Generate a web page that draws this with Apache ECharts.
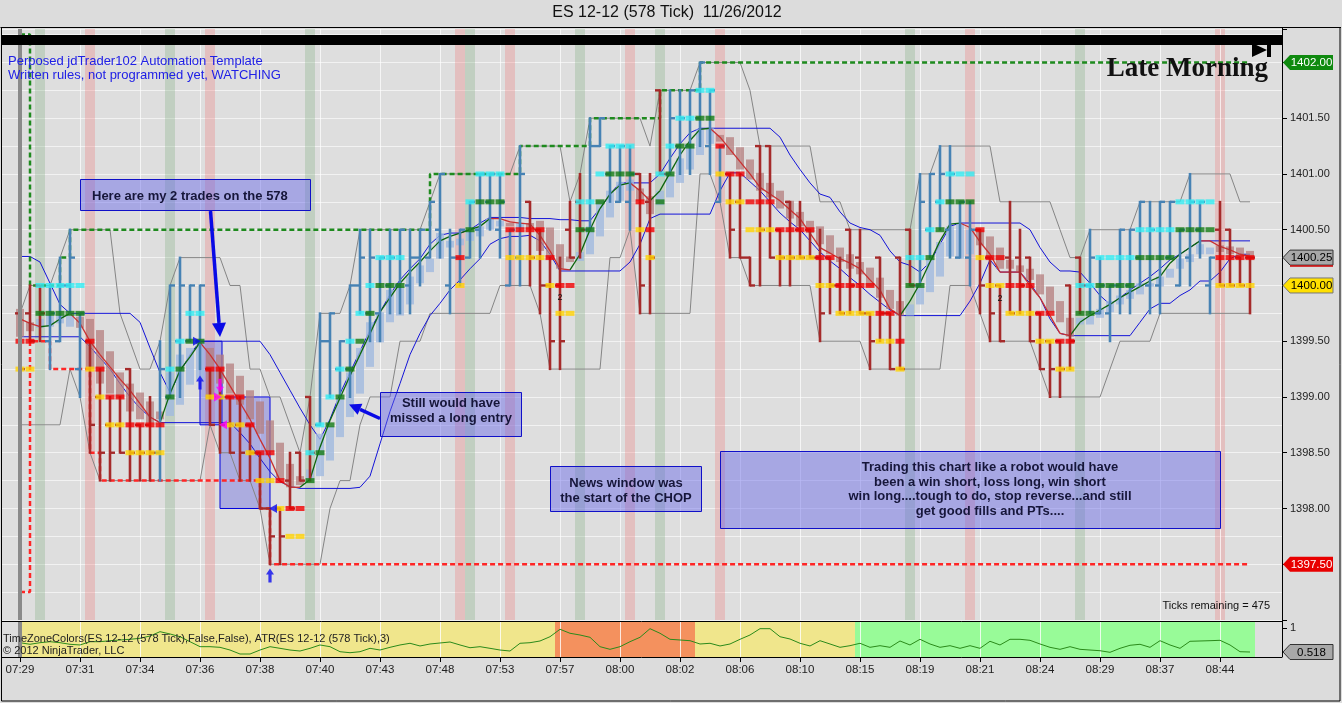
<!DOCTYPE html>
<html><head><meta charset="utf-8">
<script src="https://cdn.jsdelivr.net/npm/echarts@6/dist/echarts.min.js"></script>
<style>html,body{margin:0;padding:0;background:#dcdcdc;overflow:hidden}#c{width:1342px;height:703px}</style>
</head><body><div id="c"></div><script>
// ---------- DATA ----------
const times = ['07:29','07:31','07:34','07:36','07:38','07:40','07:43','07:48','07:53','07:57','08:00','08:02','08:06','08:10','08:15','08:19','08:21','08:24','08:29','08:37','08:44'];
const labelEvery = 6;
const open = [1399.75,1399.75,1400.00,1399.50,1399.50,1400.00,1399.25,1399.50,1399.00,1398.75,
 1398.75,1399.25,1398.75,1398.75,1398.50,1399.00,1399.50,1399.50,1399.50,1399.25,
 1399.00,1399.00,1398.75,1398.75,1398.50,1398.00,1398.00,1398.25,1398.50,1399.00,
 1398.75,1399.50,1399.25,1399.25,1400.00,1399.75,1399.75,1400.00,1400.00,1400.00,
 1400.25,1400.25,1400.50,1400.00,1400.25,1400.25,1400.50,1400.75,1400.50,1400.00,
 1400.25,1400.75,1400.50,1400.00,1400.00,1400.50,1400.75,1400.50,1401.25,1401.00,
 1400.75,1400.75,1401.00,1400.75,1401.75,1401.00,1401.25,1401.25,1401.50,1401.25,
 1400.75,1401.00,1400.75,1400.25,1401.25,1401.25,1400.50,1400.75,1400.50,1400.50,
 1400.25,1400.25,1400.00,1400.50,1400.25,1399.75,1400.25,1399.75,1400.25,1400.50,
 1400.00,1400.50,1400.75,1400.50,1400.25,1400.25,1400.50,1400.25,1400.00,1400.25,
 1400.25,1400.25,1399.75,1399.50,1399.50,1400.00,1400.25,1400.00,1399.75,1399.75,
 1400.00,1400.00,1400.25,1400.00,1400.00,1400.25,1400.00,1400.25,1400.50,1400.00,
 1400.50,1400.50,1400.25,1400.25];
const high = [1399.75,1400.00,1400.00,1400.00,1400.25,1400.50,1399.75,1399.50,1399.25,1399.00,
 1399.00,1399.25,1398.75,1399.00,1399.50,1400.00,1400.25,1400.00,1400.00,1399.25,
 1399.25,1399.00,1399.00,1398.75,1398.50,1398.00,1398.00,1398.50,1398.50,1399.00,
 1399.75,1399.75,1399.50,1400.00,1400.50,1400.50,1400.25,1400.50,1400.50,1400.50,
 1400.50,1400.75,1401.00,1400.50,1400.50,1400.75,1401.00,1401.00,1401.00,1400.50,
 1401.25,1400.75,1400.50,1400.25,1400.25,1400.75,1401.00,1401.50,1401.50,1401.25,
 1401.25,1401.25,1401.00,1401.00,1401.75,1401.75,1401.75,1401.75,1402.00,1401.75,
 1401.25,1401.00,1401.00,1400.25,1401.25,1401.25,1400.50,1400.75,1400.75,1400.50,
 1400.50,1400.25,1400.25,1400.50,1400.50,1399.75,1400.25,1399.75,1400.25,1400.50,
 1401.00,1401.00,1401.25,1401.25,1400.75,1400.75,1400.50,1400.25,1400.00,1400.75,
 1400.50,1400.25,1399.75,1399.50,1399.50,1400.00,1400.25,1400.50,1400.25,1400.00,
 1400.50,1400.50,1400.75,1400.75,1400.75,1400.75,1400.50,1401.00,1400.75,1400.25,
 1400.75,1400.50,1400.25,1400.25];
const low = [1399.00,1399.50,1399.50,1399.25,1399.50,1399.75,1399.00,1398.50,1398.25,1398.25,
 1398.50,1398.25,1398.25,1398.25,1398.25,1399.00,1399.00,1399.50,1399.25,1398.75,
 1398.50,1398.50,1398.25,1398.25,1398.00,1397.50,1397.50,1398.00,1398.25,1398.25,
 1398.75,1399.00,1399.00,1399.00,1399.75,1399.50,1399.50,1399.75,1399.75,1399.75,
 1400.00,1400.25,1400.25,1399.75,1400.00,1400.25,1400.25,1400.50,1400.25,1400.00,
 1400.00,1400.00,1399.75,1399.25,1399.25,1400.25,1400.25,1400.50,1401.25,1400.75,
 1400.75,1400.50,1399.75,1399.75,1401.00,1401.00,1401.00,1401.00,1401.25,1401.00,
 1400.75,1400.25,1400.25,1400.00,1400.00,1400.25,1400.00,1400.00,1400.25,1400.25,
 1399.50,1399.75,1399.75,1399.75,1399.75,1399.25,1399.50,1399.25,1399.25,1400.00,
 1400.00,1400.25,1400.50,1400.25,1400.25,1400.00,1399.75,1399.50,1399.50,1399.75,
 1399.75,1399.50,1399.25,1399.00,1399.00,1399.25,1399.75,1399.75,1399.75,1399.50,
 1399.75,1399.75,1400.00,1399.75,1399.75,1400.25,1400.00,1400.00,1400.25,1399.75,
 1400.00,1400.00,1400.00,1399.75];
const close = [1399.25,1399.50,1399.75,1399.75,1400.00,1400.25,1399.75,1398.75,1398.50,1398.50,
 1398.50,1398.50,1398.50,1398.50,1399.25,1400.00,1400.00,1400.00,1400.00,1398.75,
 1398.75,1398.50,1398.50,1398.50,1398.00,1397.75,1397.75,1398.00,1398.25,1398.50,
 1399.50,1399.75,1399.50,1400.00,1400.25,1400.25,1400.25,1400.25,1400.50,1400.25,
 1400.50,1400.75,1401.00,1400.25,1400.50,1400.75,1401.00,1401.00,1400.75,1400.50,
 1401.00,1400.25,1400.00,1399.50,1399.50,1400.25,1400.50,1401.25,1401.50,1401.25,
 1401.25,1401.00,1400.00,1400.25,1401.00,1401.50,1401.50,1401.75,1402.00,1401.75,
 1401.25,1400.50,1400.25,1400.00,1400.50,1400.25,1400.25,1400.25,1400.25,1400.25,
 1399.75,1400.00,1399.75,1400.00,1399.75,1399.50,1399.75,1399.25,1399.25,1400.00,
 1400.75,1401.00,1401.00,1401.00,1400.75,1400.50,1400.00,1399.75,1399.50,1399.75,
 1400.00,1399.50,1399.25,1399.25,1399.25,1399.50,1400.00,1400.25,1400.00,1400.00,
 1400.50,1400.50,1400.75,1400.50,1400.75,1400.75,1400.50,1400.75,1400.75,1400.25,
 1400.00,1400.00,1400.00,1400.25];
const haOpen = [1399.79,1399.67,1399.62,1399.63,1399.66,1399.63,1399.72,1399.70,1399.60,1399.41,
 1399.22,1399.12,1399.04,1398.96,1398.87,1398.83,1398.93,1399.11,1399.15,1399.44,
 1399.38,1399.30,1399.19,1399.06,1398.96,1398.79,1398.59,1398.40,1398.29,1398.25,
 1398.29,1398.43,1398.64,1398.82,1399.03,1399.27,1399.49,1399.67,1399.73,1399.83,
 1400.02,1400.12,1400.24,1400.34,1400.36,1400.40,1400.44,1400.50,1400.53,1400.56,
 1400.51,1400.56,1400.58,1400.52,1400.37,1400.26,1400.22,1400.28,1400.44,1400.61,
 1400.76,1400.85,1400.87,1400.80,1400.72,1400.79,1400.92,1401.04,1401.17,1401.27,
 1401.35,1401.33,1401.24,1401.13,1401.01,1400.92,1400.85,1400.76,1400.66,1400.58,
 1400.53,1400.45,1400.34,1400.28,1400.21,1400.16,1400.07,1399.96,1399.86,1399.73,
 1399.83,1399.94,1400.08,1400.26,1400.24,1400.28,1400.50,1400.44,1400.34,1400.23,
 1400.18,1400.15,1400.10,1399.99,1399.86,1399.71,1399.65,1399.65,1399.71,1399.76,
 1399.83,1399.88,1399.92,1399.99,1399.99,1400.07,1400.15,1400.21,1400.28,1400.28,
 1400.36,1400.35,1400.34,1400.31];
const haClose = [1399.54,1399.59,1399.70,1399.73,1399.73,1399.73,1399.62,1399.25,1399.12,1399.03,
 1398.99,1398.87,1398.80,1398.77,1398.80,1399.22,1399.38,1399.44,1399.47,1398.99,
 1399.12,1399.03,1398.93,1398.80,1398.67,1398.51,1398.26,1398.19,1398.21,1398.35,
 1398.67,1398.74,1398.99,1399.22,1399.44,1399.67,1399.76,1399.96,1399.99,1400.08,
 1400.18,1400.24,1400.47,1400.40,1400.42,1400.48,1400.53,1400.60,1400.58,1400.53,
 1400.56,1400.50,1400.31,1400.24,1400.15,1400.21,1400.30,1400.53,1400.76,1400.85,
 1400.93,1400.95,1400.76,1400.64,1400.85,1401.00,1401.14,1401.27,1401.40,1401.41,
 1401.29,1401.17,1401.04,1400.95,1400.85,1400.79,1400.69,1400.60,1400.53,1400.47,
 1400.37,1400.28,1400.21,1400.15,1400.10,1399.99,1399.89,1399.79,1399.73,1399.83,
 1400.02,1400.23,1400.39,1400.53,1400.55,1400.50,1400.36,1400.24,1400.15,1400.15,
 1400.12,1400.05,1399.92,1399.76,1399.67,1399.54,1399.71,1399.73,1399.79,1399.86,
 1399.91,1399.96,1400.02,1400.02,1400.08,1400.15,1400.24,1400.28,1400.37,1400.34,
 1400.30,1400.28,1400.26,1400.24];
const maLine = [1399.70,1399.66,1399.63,1399.64,1399.70,1399.75,1399.66,1399.50,1399.38,1399.27,
 1399.16,1399.06,1398.94,1398.82,1398.77,1399.03,1399.24,1399.36,1399.49,1399.38,
 1399.25,1399.10,1398.95,1398.80,1398.62,1398.45,1398.25,1398.19,1398.19,1398.26,
 1398.55,1398.79,1398.99,1399.19,1399.38,1399.57,1399.76,1399.89,1400.02,1400.12,
 1400.21,1400.31,1400.40,1400.44,1400.47,1400.50,1400.53,1400.60,1400.60,1400.57,
 1400.56,1400.55,1400.45,1400.31,1400.15,1400.14,1400.28,1400.50,1400.69,1400.82,
 1400.90,1400.92,1400.85,1400.76,1400.85,1401.01,1401.17,1401.30,1401.40,1401.41,
 1401.33,1401.22,1401.11,1401.00,1400.88,1400.82,1400.76,1400.68,1400.60,1400.47,
 1400.34,1400.29,1400.24,1400.20,1400.15,1400.05,1399.96,1399.79,1399.73,1399.86,
 1400.02,1400.21,1400.40,1400.55,1400.56,1400.52,1400.39,1400.28,1400.12,1400.12,
 1400.12,1400.00,1399.89,1399.73,1399.57,1399.55,1399.67,1399.73,1399.78,1399.83,
 1399.89,1399.94,1399.99,1400.04,1400.08,1400.20,1400.28,1400.34,1400.40,1400.40,
 1400.35,1400.32,1400.28,1400.26];
const bandUpper = [1400.26,1400.26,1400.21,1400.02,1399.83,1399.75,1399.75,1399.75,1399.75,1399.75,
 1399.75,1399.75,1399.67,1399.44,1399.22,1399.04,1399.22,1399.38,1399.50,1399.50,
 1399.50,1399.50,1399.50,1399.50,1399.50,1399.38,1399.22,1399.06,1398.90,1398.75,
 1398.62,1398.80,1399.03,1399.22,1399.41,1399.60,1399.76,1399.92,1400.05,1400.15,
 1400.24,1400.37,1400.45,1400.47,1400.47,1400.50,1400.56,1400.61,1400.61,1400.61,
 1400.61,1400.60,1400.60,1400.60,1400.59,1400.59,1400.58,1400.58,1400.69,1400.82,
 1400.92,1400.92,1400.92,1400.92,1401.00,1401.14,1401.27,1401.37,1401.41,1401.41,
 1401.41,1401.41,1401.41,1401.41,1401.41,1401.41,1401.33,1401.17,1401.04,1400.92,
 1400.82,1400.79,1400.66,1400.56,1400.52,1400.50,1400.45,1400.31,1400.21,1400.18,
 1400.12,1400.21,1400.37,1400.53,1400.56,1400.56,1400.56,1400.56,1400.56,1400.56,
 1400.56,1400.50,1400.34,1400.21,1400.13,1400.13,1400.12,1400.02,1399.91,1399.83,
 1399.89,1399.96,1400.02,1400.08,1400.15,1400.23,1400.28,1400.34,1400.40,1400.40,
 1400.40,1400.40,1400.40,1400.40];
const bandLower = [1399.54,1399.54,1399.54,1399.54,1399.54,1399.54,1399.54,1399.45,1399.35,1399.25,
 1399.12,1399.00,1398.90,1398.82,1398.77,1398.77,1398.77,1398.77,1398.77,1398.77,
 1398.77,1398.77,1398.68,1398.58,1398.45,1398.33,1398.24,1398.20,1398.18,1398.18,
 1398.18,1398.18,1398.18,1398.18,1398.19,1398.29,1398.58,1398.87,1399.12,1399.38,
 1399.57,1399.73,1399.84,1399.96,1400.05,1400.15,1400.24,1400.37,1400.42,1400.44,
 1400.44,1400.45,1400.40,1400.28,1400.13,1400.13,1400.13,1400.13,1400.13,1400.13,
 1400.13,1400.21,1400.37,1400.60,1400.64,1400.64,1400.64,1400.64,1400.64,1400.64,
 1400.85,1401.01,1401.01,1400.93,1400.85,1400.75,1400.65,1400.57,1400.50,1400.40,
 1400.30,1400.22,1400.15,1400.07,1400.00,1399.92,1399.85,1399.78,1399.73,1399.73,
 1399.73,1399.73,1399.73,1399.73,1399.73,1399.86,1400.02,1400.23,1400.12,1400.12,
 1400.12,1400.02,1399.89,1399.70,1399.57,1399.55,1399.55,1399.55,1399.55,1399.55,
 1399.55,1399.55,1399.67,1399.79,1399.84,1399.84,1399.91,1399.96,1400.04,1400.04,
 1400.12,1400.24,1400.28,1400.28];
const channelHigh = [1399.75,1400.00,1400.00,1400.00,1400.25,1400.50,1400.50,1400.50,1400.50,1400.50,
 1399.75,1399.50,1399.25,1399.25,1399.50,1400.00,1400.25,1400.25,1400.25,1400.25,
 1400.25,1400.00,1400.00,1399.25,1399.25,1399.00,1399.00,1398.75,1398.50,1399.00,
 1399.75,1399.75,1399.75,1400.00,1400.50,1400.50,1400.50,1400.50,1400.50,1400.50,
 1400.50,1400.75,1401.00,1401.00,1401.00,1401.00,1401.00,1401.00,1401.00,1401.00,
 1401.25,1401.25,1401.25,1401.25,1401.25,1400.75,1401.00,1401.50,1401.50,1401.50,
 1401.50,1401.50,1401.50,1401.25,1401.75,1401.75,1401.75,1401.75,1402.00,1402.00,
 1402.00,1402.00,1402.00,1401.75,1401.25,1401.25,1401.25,1401.25,1401.25,1401.25,
 1400.75,1400.75,1400.75,1400.50,1400.50,1400.50,1400.50,1400.50,1400.50,1400.50,
 1401.00,1401.00,1401.25,1401.25,1401.25,1401.25,1401.25,1401.25,1400.75,1400.75,
 1400.75,1400.75,1400.75,1400.75,1400.50,1400.25,1400.25,1400.50,1400.50,1400.50,
 1400.50,1400.50,1400.75,1400.75,1400.75,1400.75,1400.75,1401.00,1401.00,1401.00,
 1401.00,1401.00,1400.75,1400.75];
const channelLow = [1398.75,1398.75,1398.75,1398.75,1398.75,1399.25,1399.00,1398.50,1398.25,1398.25,
 1398.25,1398.25,1398.25,1398.25,1398.25,1398.25,1398.25,1398.25,1398.25,1398.75,
 1398.50,1398.50,1398.25,1398.25,1398.00,1397.50,1397.50,1397.50,1397.50,1397.50,
 1397.50,1398.00,1398.25,1398.25,1398.75,1399.00,1399.00,1399.00,1399.50,1399.50,
 1399.50,1399.75,1399.75,1399.75,1399.75,1399.75,1399.75,1399.75,1400.00,1400.00,
 1400.00,1400.00,1399.75,1399.25,1399.25,1399.25,1399.25,1399.25,1399.25,1400.25,
 1400.25,1400.50,1399.75,1399.75,1399.75,1399.75,1399.75,1399.75,1401.00,1401.00,
 1400.75,1400.25,1400.25,1400.00,1400.00,1400.00,1400.00,1400.00,1400.00,1400.00,
 1399.50,1399.50,1399.50,1399.50,1399.50,1399.25,1399.25,1399.25,1399.25,1399.25,
 1399.25,1399.25,1399.25,1400.00,1400.00,1400.00,1399.75,1399.50,1399.50,1399.50,
 1399.50,1399.50,1399.25,1399.00,1399.00,1399.00,1399.00,1399.00,1399.00,1399.25,
 1399.50,1399.50,1399.50,1399.50,1399.75,1399.75,1399.75,1399.75,1399.75,1399.75,
 1399.75,1399.75,1399.75,1399.75];
const trailHigh = [1402.25,1400.00,1400.00,1400.00,1400.25,
 1400.50,1400.50,1400.50,1400.50,1400.50,1400.50,1400.50,1400.50,1400.50,1400.50,1400.50,1400.50,1400.50,1400.50,1400.50,
 1400.50,1400.50,1400.50,1400.50,1400.50,1400.50,1400.50,1400.50,1400.50,1400.50,1400.50,1400.50,1400.50,1400.50,1400.50,
 1400.50,1400.50,1400.50,1400.50,1400.50,1400.50,
 1401.00,1401.00,1401.00,1401.00,1401.00,1401.00,1401.00,1401.00,1401.00,
 1401.25,1401.25,1401.25,1401.25,1401.25,1401.25,1401.25,
 1401.50,1401.50,1401.50,1401.50,1401.50,1401.50,1401.50,
 1401.75,1401.75,1401.75,1401.75,
 1402.00,1402.00,1402.00,1402.00,1402.00,1402.00,1402.00,1402.00,1402.00,1402.00,1402.00,1402.00,1402.00,1402.00,
 1402.00,1402.00,1402.00,1402.00,1402.00,1402.00,1402.00,1402.00,1402.00,1402.00,1402.00,1402.00,1402.00,1402.00,
 1402.00,1402.00,1402.00,1402.00,1402.00,1402.00,1402.00,1402.00,1402.00,1402.00,1402.00,1402.00,1402.00,1402.00,
 1402.00,1402.00,1402.00,1402.00,1402.00,1402.00,1402.00,1402.00,1402.00,1402.00,1402.00,1402.00,1402.00,1402.00];
const trailLow = [1397.25,1399.50,1399.50,1399.25,1399.25,1399.25,1399.25,1398.50,
 1398.25,1398.25,1398.25,1398.25,1398.25,1398.25,1398.25,1398.25,1398.25,1398.25,1398.25,1398.25,1398.25,1398.25,1398.25,1398.25,
 1398.00,
 1397.50,1397.50,1397.50,1397.50,1397.50,1397.50,1397.50,1397.50,1397.50,1397.50,1397.50,1397.50,1397.50,1397.50,1397.50,1397.50,1397.50,1397.50,1397.50,1397.50,1397.50,1397.50,1397.50,1397.50,1397.50,
 1397.50,1397.50,1397.50,1397.50,1397.50,1397.50,1397.50,1397.50,1397.50,1397.50,1397.50,1397.50,1397.50,1397.50,1397.50,1397.50,1397.50,1397.50,1397.50,1397.50,1397.50,1397.50,1397.50,1397.50,1397.50,
 1397.50,1397.50,1397.50,1397.50,1397.50,1397.50,1397.50,1397.50,1397.50,1397.50,1397.50,1397.50,1397.50,1397.50,1397.50,1397.50,1397.50,1397.50,1397.50,1397.50,1397.50,1397.50,1397.50,1397.50,1397.50,
 1397.50,1397.50,1397.50,1397.50,1397.50,1397.50,1397.50,1397.50,1397.50,1397.50,1397.50,1397.50,1397.50,1397.50,1397.50,1397.50,1397.50,1397.50,1397.50,1397.50,1397.50,1397.50,1397.50,1397.50];
// signal dots: 1 = long (cyan over green), -1 = short (red over gold), 0 = none; level = upper dot
const signalSide = [-1,-1,1,1,1,1,1,-1,-1,-1,-1,-1,-1,-1,-1,1,1,1,1,-1,
 -1,-1,-1,-1,-1,-1,-1,-1,-1,1,1,1,1,1,1,1,1,1,1,0,
 0,0,0,0,-1,1,1,1,1,-1,-1,-1,-1,-1,-1,-1,1,1,1,1,
 1,1,-1,-1,1,1,1,1,1,1,-1,-1,-1,-1,-1,-1,-1,-1,-1,-1,
 -1,-1,-1,-1,-1,-1,-1,-1,-1,1,1,1,1,1,1,1,-1,-1,-1,-1,
 -1,-1,-1,-1,-1,-1,1,1,1,1,1,1,1,1,1,1,1,1,1,1,
 -1,-1,-1,-1];
const signalLevel = [1399.50,1399.50,1400.00,1400.00,1400.00,1400.00,1400.00,1399.50,1399.25,1399.00,
 1399.00,1398.75,1398.75,1398.75,1398.75,1399.25,1399.50,1399.75,1399.75,1399.25,
 1399.25,1399.00,1399.00,1398.75,1398.50,1398.50,1398.25,1398.00,1398.00,1398.50,
 1398.75,1399.00,1399.25,1399.50,1399.75,1400.00,1400.25,1400.25,1400.25,null,
 null,null,null,null,1400.25,1400.75,1401.00,1401.00,1401.00,1400.50,
 1400.50,1400.50,1400.50,1400.25,1400.00,1400.00,1400.75,1400.75,1401.00,1401.25,
 1401.25,1401.25,1400.75,1400.50,1401.00,1401.25,1401.50,1401.50,1401.75,1401.75,
 1401.25,1401.00,1401.00,1400.75,1400.75,1400.75,1400.50,1400.50,1400.50,1400.50,
 1400.25,1400.25,1400.00,1400.00,1400.00,1400.00,1399.75,1399.75,1399.50,1400.25,
 1400.25,1400.50,1400.75,1401.00,1401.00,1401.00,1400.50,1400.25,1400.25,1400.00,
 1400.00,1400.00,1399.75,1399.75,1399.50,1399.50,1400.00,1400.00,1400.25,1400.25,
 1400.25,1400.25,1400.50,1400.50,1400.50,1400.50,1400.75,1400.75,1400.75,1400.75,
 1400.25,1400.25,1400.25,1400.25];
const atr = [0.705,0.673,0.705,0.725,0.705,0.673,0.659,0.725,0.725,0.745,
 0.759,0.773,0.793,0.839,0.926,0.880,0.825,0.725,0.625,0.625,
 0.612,0.558,0.478,0.478,0.558,0.625,0.592,0.558,0.538,0.592,
 0.659,0.625,0.524,0.504,0.524,0.592,0.558,0.612,0.659,0.693,
 0.639,0.679,0.699,0.719,0.659,0.604,0.625,0.592,0.558,0.538,
 0.693,0.705,0.739,0.825,0.974,0.894,0.859,0.813,0.625,0.572,
 0.625,0.725,0.813,0.986,0.894,0.773,0.759,0.745,0.679,0.693,
 0.639,0.679,0.773,0.859,0.986,0.986,0.825,0.779,0.693,0.639,
 0.745,0.679,0.612,0.645,0.693,0.612,0.645,0.612,0.739,0.659,
 0.773,0.679,0.612,0.645,0.592,0.645,0.592,0.733,0.659,0.773,
 0.773,0.753,0.679,0.612,0.572,0.625,0.572,0.558,0.544,0.512,
 0.592,0.653,0.673,0.612,0.745,0.659,0.592,0.733,0.739,0.745,
 0.753,0.659,0.524,0.518];
const greenStripes = [2,15,29,45,56,64,89,106];
const redStripes = [7,19,44,49,61,70,95,120];
const zoneFrom = [0.2,53.5,67.5,83.5];
const zoneTo = [53.5,67.5,83.5,123.5];
const zoneKind = ['pre','news','pre','late'];
const tradeBoxes = [[18,20.2,1399.5,1398.75],[20,25,1399.0,1398.0]];
const tradeUpBlue = [[18,1399.13],[25,1397.40]];
const tradeRightBlue = [[17.7,1399.5]];
const tradeLeftBlue = [[25.3,1398.0]];
const tradeDownMagenta = [[20,1399.10]];
const tradeRightMagenta = [[19.8,1399.0]];
const tradeLeftMagenta = [[20.3,1398.75]];

// ---------- STYLE ----------
const UP='#4682B4', DN='#A52A2A', HA_UP='rgba(160,185,222,0.8)', HA_DN='rgba(180,125,125,0.75)';
const ZONE_COLORS={pre:'#F0E68C',news:'#F4915E',late:'#98FB98'};
const FONT='"Liberation Sans", Arial, sans-serif';
const N = close.length, last = N-1;
const tickVals = times.map((t,k)=>k*labelEvery);

const chart = echarts.init(document.getElementById('c'), null, {renderer:'canvas'});

const stripeAreas = greenStripes.map(i=>[{xAxis:i-0.5,itemStyle:{color:'rgba(120,170,120,0.28)'}},{xAxis:i+0.5}])
  .concat(redStripes.map(i=>[{xAxis:i-0.5,itemStyle:{color:'rgba(240,120,120,0.30)'}},{xAxis:i+0.5}]));

const pts = arr => arr.map((v,i)=>[i,v]);
const cyanPts=[],greenPts=[],redPts=[],goldPts=[];
signalSide.forEach((s,i)=>{
  const lv = signalLevel[i]; if(lv==null||s===0) return;
  if(s===1){cyanPts.push([i,lv]);greenPts.push([i,lv-0.25]);}
  else {redPts.push([i,lv]);goldPts.push([i,lv-0.25]);}
});
function dots(data,color,z){return {type:'scatter',xAxisIndex:0,yAxisIndex:0,data,symbol:'rect',symbolSize:[9,5],itemStyle:{color},z,silent:true};}
function marks(data,path,size,color){return {type:'scatter',xAxisIndex:0,yAxisIndex:0,data,symbol:path,symbolSize:size,itemStyle:{color},z:12,silent:true};}
const P_UP='path://M5,0L10,6L7,6L7,14L3,14L3,6L0,6Z';
const P_DOWN='path://M3,0L7,0L7,8L10,8L5,14L0,8L3,8Z';
const P_RIGHT='path://M0,0L10,5L0,10Z';
const P_LEFT='path://M10,0L0,5L10,10Z';

const option = {
  animation:false,
  backgroundColor:'#dcdcdc',
  grid:[
    {left:2,top:29,width:1280,height:591,show:true,backgroundColor:'#dedede',borderWidth:0},
    {left:2,top:622,width:1280,height:35,show:true,backgroundColor:'#dedede',borderWidth:0}
  ],
  xAxis:[
    {type:'value',gridIndex:0,min:-1.8,max:126.2,show:false,axisLine:{onZero:false}},
    {type:'value',gridIndex:1,min:-1.8,max:126.2,axisLine:{show:false,onZero:false},
     axisTick:{show:true,customValues:tickVals,length:5,lineStyle:{color:'#000'}},
     axisLabel:{customValues:tickVals,color:'#222',fontSize:11.5,margin:7,fontFamily:FONT,
       formatter:v=>{const k=v/labelEvery;return Number.isInteger(k)&&times[k]?times[k]:'';}},
     splitLine:{show:false}}
  ],
  yAxis:[
    {type:'value',gridIndex:0,position:'right',min:1397,max:1402.3,interval:0.5,
     axisLine:{show:true,onZero:false,lineStyle:{color:'#000'}},axisTick:{show:true,length:5,lineStyle:{color:'#000'}},
     axisLabel:{color:'#222',fontSize:11,margin:8,fontFamily:FONT,formatter:v=>{
       if(Math.abs(v*2-Math.round(v*2))>1e-6) return '';
       const hidden=[1397,trailLow[last],trailHigh[last],close[last],signalLevel[last]-0.25];
       if(hidden.some(h=>Math.abs(h-v)<1e-6)) return '';
       return v.toFixed(2);}},
     splitLine:{show:true,lineStyle:{color:'rgba(255,255,255,0.6)'}},
     minorTick:{show:false,splitNumber:2},
     minorSplitLine:{show:true,lineStyle:{color:'rgba(255,255,255,0.6)'}}},
    {type:'value',gridIndex:1,position:'right',min:0.418,max:1.12,
     axisLine:{show:true,onZero:false,lineStyle:{color:'#000'}},
     axisTick:{show:true,customValues:[1],length:5,lineStyle:{color:'#000'}},
     axisLabel:{customValues:[1],color:'#222',fontSize:11,margin:8,fontFamily:FONT,formatter:v=>Math.abs(v-1)<1e-6?'1':''},
     splitLine:{show:false}}
  ],
  series:[
    {type:'line',xAxisIndex:0,yAxisIndex:0,data:[],silent:true,z:1,
     markArea:{silent:true,z:1,data:stripeAreas},
     markLine:{silent:true,z:1,symbol:'none',label:{show:false},lineStyle:{color:'rgba(255,255,255,0.7)',width:1,type:'solid'},
       data:tickVals.map(v=>({xAxis:v}))}},
    {type:'line',xAxisIndex:0,yAxisIndex:0,data:pts(channelHigh),showSymbol:false,lineStyle:{color:'#858585',width:1},z:2,silent:true},
    {type:'line',xAxisIndex:0,yAxisIndex:0,data:pts(channelLow),showSymbol:false,lineStyle:{color:'#858585',width:1},z:2,silent:true},
    {type:'line',xAxisIndex:0,yAxisIndex:0,data:pts(bandUpper),showSymbol:false,lineStyle:{color:'#1414D8',width:1},z:3,silent:true},
    {type:'line',xAxisIndex:0,yAxisIndex:0,data:pts(bandLower),showSymbol:false,lineStyle:{color:'#1414D8',width:1},z:3,silent:true},
    {type:'custom',xAxisIndex:0,yAxisIndex:0,z:4,silent:true,
     data:haOpen.map((o,i)=>[i,o,haClose[i]]),encode:{x:0,y:[1,2]},
     renderItem:(params,api)=>{
       const i=api.value(0),o=api.value(1),c=api.value(2);
       const a=api.coord([i,Math.max(o,c)]),b=api.coord([i,Math.min(o,c)]);
       return {type:'rect',shape:{x:a[0]-4,y:a[1],width:8,height:Math.max(2,b[1]-a[1])},style:{fill:c>=o?HA_UP:HA_DN}};
     }},
    {type:'line',xAxisIndex:0,yAxisIndex:0,data:[],silent:true,z:5,
     markArea:{silent:true,z:2,itemStyle:{color:'rgba(70,70,225,0.33)',borderColor:'#0000DD',borderWidth:1},
       data:tradeBoxes.map(b=>[{xAxis:b[0],yAxis:b[2]},{xAxis:b[1],yAxis:b[3]}])}},
    {type:'line',xAxisIndex:0,yAxisIndex:0,data:pts(trailHigh),step:'end',showSymbol:false,z:6,silent:true,
     lineStyle:{color:'#1E8A1E',width:2.5,type:[5,3]}},
    {type:'line',xAxisIndex:0,yAxisIndex:0,data:pts(trailLow),step:'end',showSymbol:false,z:6,silent:true,
     lineStyle:{color:'#FF2626',width:2.5,type:[5,3]}},
    {type:'custom',xAxisIndex:0,yAxisIndex:0,z:7,silent:true,
     data:maLine.slice(1).map((v,k)=>[k,maLine[k],k+1,v]),encode:{x:[0,2],y:[1,3]},
     renderItem:(params,api)=>{
       const p1=api.coord([api.value(0),api.value(1)]),p2=api.coord([api.value(2),api.value(3)]);
       return {type:'line',shape:{x1:p1[0],y1:p1[1],x2:p2[0],y2:p2[1]},style:{stroke:api.value(3)>api.value(1)?'#0B640B':'#C83030',lineWidth:1.3}};
     }},
    {type:'custom',xAxisIndex:0,yAxisIndex:0,z:8,silent:true,
     data:close.map((c,i)=>[i,open[i],high[i],low[i],c]),encode:{x:0,y:[1,2,3,4]},
     renderItem:(params,api)=>{
       const i=api.value(0),o=api.value(1),h=api.value(2),l=api.value(3),c=api.value(4);
       const ph=api.coord([i,h]),pl=api.coord([i,l]),po=api.coord([i,o]),pc=api.coord([i,c]);
       const col=c>o?UP:DN, x=ph[0];
       return {type:'group',children:[
         {type:'line',shape:{x1:x,y1:ph[1]-1,x2:x,y2:pl[1]+1},style:{stroke:col,lineWidth:2.6}},
         {type:'line',shape:{x1:x-5,y1:po[1],x2:x,y2:po[1]},style:{stroke:col,lineWidth:2.4}},
         {type:'line',shape:{x1:x,y1:pc[1],x2:x+5,y2:pc[1]},style:{stroke:col,lineWidth:2.4}}
       ]};
     }},
    dots(goldPts,'#FFD200',9), dots(greenPts,'#137A13',9), dots(redPts,'#F00000',10), dots(cyanPts,'#30ECF2',10),
    marks(tradeUpBlue,P_UP,[8,14],'#0A0AEE'),
    marks(tradeRightBlue,P_RIGHT,[8,9],'#0A0AEE'),
    marks(tradeLeftBlue,P_LEFT,[8,9],'#0A0AEE'),
    marks(tradeDownMagenta,P_DOWN,[8,14],'#FF00FF'),
    marks(tradeRightMagenta,P_RIGHT,[8,9],'#FF00FF'),
    marks(tradeLeftMagenta,P_LEFT,[8,9],'#FF00FF'),
    {type:'line',xAxisIndex:0,yAxisIndex:0,data:[],silent:true,z:20,
     markLine:{silent:true,z:20,symbol:'none',label:{show:false},lineStyle:{color:'#8a8a8a',width:4,type:'solid'},data:[{xAxis:0}]}},
    // lower panel
    {type:'line',xAxisIndex:1,yAxisIndex:1,data:[],silent:true,z:1,
     markArea:{silent:true,z:1,data:zoneFrom.map((f,k)=>[{xAxis:f,itemStyle:{color:ZONE_COLORS[zoneKind[k]]}},{xAxis:zoneTo[k]}])}},
    {type:'line',xAxisIndex:1,yAxisIndex:1,data:[],silent:true,z:2,
     markLine:{silent:true,z:2,symbol:'none',label:{show:false},lineStyle:{color:'rgba(255,255,255,0.8)',width:1,type:'solid'},data:tickVals.map(v=>({xAxis:v}))}},
    {type:'line',xAxisIndex:1,yAxisIndex:1,data:pts(atr),showSymbol:false,z:3,silent:true,lineStyle:{color:'#2A8A1A',width:1}},
    {type:'line',xAxisIndex:1,yAxisIndex:1,data:[],silent:true,z:20,
     markLine:{silent:true,z:20,symbol:'none',label:{show:false},lineStyle:{color:'#8a8a8a',width:4,type:'solid'},data:[{xAxis:0}]}}
  ]
};
chart.setOption(option);

// ---------- annotations / frame ----------
const g = [];
function txt(x,y,text,font,fill,align){g.push({type:'text',x,y,z:200,silent:true,style:{text,font,fill,align:align||'left',verticalAlign:'middle',textAlign:align||'left',textVerticalAlign:'middle'}});}
function rect(x,y,w,h,fill,stroke,z){g.push({type:'rect',z:z||150,silent:true,shape:{x,y,width:w,height:h},style:{fill:fill||'none',stroke:stroke||null,lineWidth:1}});}
function line(x1,y1,x2,y2,stroke,w,z){g.push({type:'line',z:z||150,silent:true,shape:{x1,y1,x2,y2},style:{stroke,lineWidth:w}});}
function poly(points,fill,stroke,z){g.push({type:'polygon',z:z||150,silent:true,shape:{points},style:{fill,stroke:stroke||null,lineWidth:1}});}

// frame
rect(2,35,1280,10,'#000',null,120);
poly([[1252,43],[1267,50],[1252,57]],'#000',null,121);
rect(1267,40,4,17,'#000',null,121);
line(0.5,27.5,1341,27.5,'#000',1,130);
line(1282.5,27,1282.5,657,'#000',1,130);
line(1,621.5,1282,621.5,'#000',1,130);
line(1,657.5,1282,657.5,'#000',1,130);
rect(1.5,27.5,1338.5,673.5,'none','#000',130);

// title & texts
txt(667,13,'ES 12-12 (578 Tick)  11/26/2012','16px '+FONT,'#111','center');
txt(8,61,'Perposed jdTrader102 Automation Template','13px '+FONT,'#2020E6');
txt(8,75,'Written rules, not programmed yet, WATCHING','13px '+FONT,'#2020E6');
txt(1268,69,'Late Morning','bold 27px "Liberation Serif", "Times New Roman", serif','#111','right');
txt(1270,606,'Ticks remaining = 475','11px '+FONT,'#111','right');
txt(3,639,'TimeZoneColors(ES 12-12 (578 Tick),False,False), ATR(ES 12-12 (578 Tick),3)','11px '+FONT,'#222');
txt(3,651,'© 2012 NinjaTrader, LLC','11px '+FONT,'#222');
txt(560,298,'2','9px '+FONT,'#111','center');
txt(1000,299,'2','9px '+FONT,'#111','center');

// annotation boxes
const BOX='rgba(100,100,232,0.45)', BORDER='#1010C8', BT='#16163a', BF='bold 13px '+FONT;
rect(80.5,179.5,230,31,BOX,BORDER);
txt(92,196,'Here are my 2 trades on the 578',BF,BT);
line(210.5,211,219,323,'#0A0AE6',3.5);
poly([[220,337],[226,322.5],[212,323.5]],'#0A0AE6');
rect(380.5,392.5,141,44,BOX,BORDER);
txt(451,403,'Still would have',BF,BT,'center');
txt(451,418,'missed a long entry',BF,BT,'center');
line(380,418.5,360,409.3,'#0A0AE6',3.5);
poly([[349,404.5],[362.4,403.8],[357.6,414.8]],'#0A0AE6');
rect(550.5,466.5,151,45,BOX,BORDER);
txt(626,483,'News window was',BF,BT,'center');
txt(626,498,'the start of the CHOP',BF,BT,'center');
rect(720.5,451.5,500,77,BOX,BORDER);
txt(990,467,'Trading this chart like a robot would have',BF,BT,'center');
txt(990,482,'been a win short, loss long, win short',BF,BT,'center');
txt(990,496,'win long....tough to do, stop reverse...and still',BF,BT,'center');
txt(990,511,'get good fills and PTs....',BF,BT,'center');

// price tags
function tag(y,label,fill,color,stroke,under){
  poly([[1283,y],[1290,y-7.5],[1333,y-7.5],[1333,y+7.5],[1290,y+7.5]],fill,stroke||null,160);
  if(under) line(1290,y+8.5,1333,y+8.5,under,1.5,160);
  g.push({type:'text',x:1311.5,y:y+0.5,z:170,silent:true,style:{text:label,font:'11.5px '+FONT,fill:color,align:'center',verticalAlign:'middle',textAlign:'center',textVerticalAlign:'middle'}});
}
const yP = v=>chart.convertToPixel({yAxisIndex:0},v);
tag(yP(trailHigh[last]),trailHigh[last].toFixed(2),'#0F8A0F','#fff');
tag(yP(close[last]),close[last].toFixed(2),'#A8A8A8','#000','#333','#D00000');
tag(yP(signalLevel[last]-0.25),(signalLevel[last]-0.25).toFixed(2),'#FFE000','#000','#777');
tag(yP(trailLow[last]),trailLow[last].toFixed(2),'#E80000','#fff');
tag(chart.convertToPixel({yAxisIndex:1},atr[last]),atr[last].toFixed(3),'#A8A8A8','#000','#333');

chart.setOption({graphic:g});
</script></body></html>
